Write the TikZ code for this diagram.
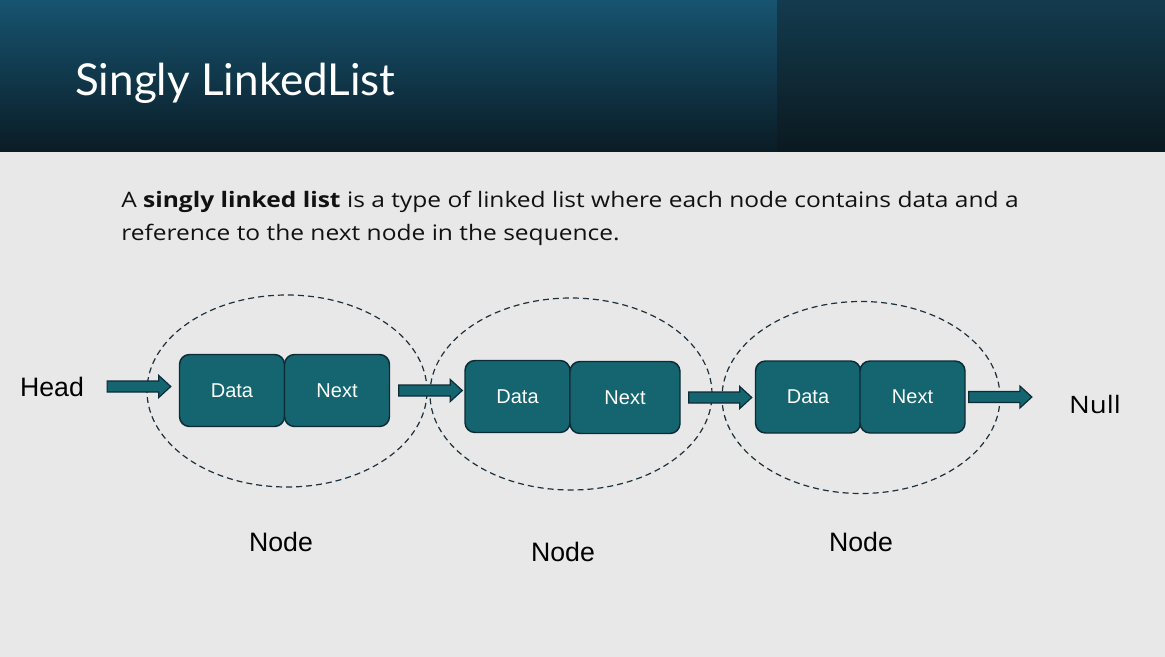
\documentclass[tikz,border=0pt]{standalone}
\usepackage{fontspec}
\setmainfont{Lato}
\newfontfamily\arialfont{Liberation Sans}
\newfontfamily\bodyfont[FakeStretch=1.15]{Open Sans}
\usetikzlibrary{calc,shapes.geometric}

\definecolor{slidebg}{HTML}{E8E8E8}
\definecolor{hdtop}{HTML}{175470}
\definecolor{hdbot}{HTML}{0A1C26}
\definecolor{hdtopdark}{HTML}{133B4E}
\definecolor{hdbotdark}{HTML}{0B1920}
\definecolor{cellfill}{HTML}{146570}
\definecolor{celledge}{HTML}{0D2B36}
\definecolor{ringedge}{HTML}{1B2F3C}
\definecolor{bodytext}{HTML}{111111}

% block arrow from #1 (shifted by #3) to the x of #2 (less #4)
\newcommand{\linkarrow}[4]{%
  \coordinate (la) at ($(#1)+(#3,0)$);
  \coordinate (lb) at ($(la -| #2)+(-#4,0)$);
  \draw[linkarrow] ($(la)+(0,-5.5)$) -- ($(lb)+(-12,-5.5)$) -- ($(lb)+(-12,-11)$) -- (lb) -- ($(lb)+(-12,11)$) -- ($(lb)+(-12,5.5)$) -- ($(la)+(0,5.5)$) -- cycle ;}

\begin{document}
\begin{tikzpicture}[x=0.75pt,y=0.75pt,yscale=-1,xscale=1,
  cell/.style={draw=celledge, fill=cellfill, line width=1.1pt, rounded corners=7.5pt, minimum width=78.75pt, minimum height=54pt, inner sep=0pt, text=white, font=\arialfont\fontsize{15}{17}\selectfont},
  ring/.style={ellipse, draw=ringedge, line width=0.9pt, dash pattern=on 4.5pt off 3pt, minimum width=210pt, minimum height=144pt, inner sep=0pt},
  linkarrow/.style={draw=celledge, fill=cellfill, line width=0.9pt, line join=miter},
  label/.style={font=\arialfont\fontsize{20}{23}\selectfont, text=black, inner sep=0.75pt}]
\useasboundingbox (0,0) rectangle (1165,657);

%Background
\fill[slidebg] (0,0) rectangle (1165,657);
%Header bands
\shade[top color=hdtop, bottom color=hdbot] (0,0) rectangle (777,151);
\shade[top color=hdtopdark, bottom color=hdbotdark] (777,0) rectangle (1165,151);

% Title
\node (title) [anchor=base west, inner sep=0pt, text=white, font=\fontsize{33}{38}\selectfont] at (75,95) {Singly LinkedList};
% Text Node
\node (intro) [anchor=base west, inner sep=0pt, align=left, text=bodytext, font=\bodyfont\fontsize{16}{24.75}\selectfont] at (121,240) {A \textbf{singly linked list} is a type of linked list where each node contains data and a\\reference to the next node in the sequence.};

%Shape: Ellipses
\node (ring1) [ring] at (287,391) {};
\node (ring2) [ring, minimum width=211.5pt] at (571,394) {};
\node (ring3) [ring, minimum width=208.5pt] at (861,397.5) {};

%Shape: Cells
\node (d1) [cell] at (232,390.5) {Data};
\node (n1) [cell] at (337,390.5) {Next};
\node (d2) [cell] at (517.5,396.5) {Data};
\node (n2) [cell, minimum width=82.5pt] at (625,397.5) {Next};
\node (d3) [cell] at (808,397) {Data};
\node (n3) [cell] at (912.5,397) {Next};

% Text Node
\node (hd) [label] at (52,386.5) {Head};
\node (nl) [label, font=\bodyfont\fontsize{18}{23}\selectfont] at (1095,404.5) {Null};
\node (lb1) [label] at (281,541.5) {Node};
\node (lb2) [label] at (563,551.5) {Node};
\node (lb3) [label] at (861,541.5) {Node};

%Block arrows
\linkarrow{hd.east}{d1.west}{22}{8}
\linkarrow{n1.east}{d2.west}{8.5}{2}
\linkarrow{n2.east}{d3.west}{8}{3}
\linkarrow{n3.east}{nl.west}{3}{36}
\end{tikzpicture}
\end{document}
